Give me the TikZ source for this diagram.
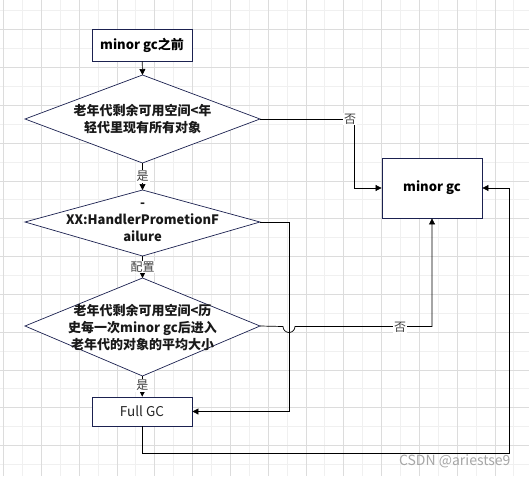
\documentclass[tikz,border=0pt]{standalone}
\usepackage{fontspec}
\setmainfont{Noto Sans CJK SC}
\usetikzlibrary{arrows.meta}
\definecolor{boxc}{HTML}{1B2150}
\definecolor{gridmin}{HTML}{F0F0F0}
\definecolor{gridmaj}{HTML}{DCDCDC}
\begin{document}
\begin{tikzpicture}[x=1pt,y=-1pt,
  box/.style={draw=boxc,line width=0.8pt,minimum width=100pt,inner sep=0pt,fill=white},
  diashape/.style={draw=boxc,line width=0.7pt,fill=white},
  diatext/.style={align=center,font=\fontsize{13}{17}\selectfont\bfseries,text=black!90},
  conn/.style={draw=black,line width=0.7pt},
  arr/.style={conn,-{Triangle[length=6pt,width=6pt]}},
  lab/.style={fill=white,inner sep=1pt,font=\fontsize{12}{14}\selectfont,text=black!75}]
\useasboundingbox (0,0) rectangle (529,476);
\fill[white] (0,0) rectangle (529,476);
% grid
\foreach \i in {0,...,28} {
  \pgfmathsetmacro\xx{3.4+18.9*\i}
  \draw[gridmin,line width=0.6pt] (\xx,0) -- (\xx,476);
}
\foreach \i in {0,...,25} {
  \pgfmathsetmacro\yy{10.7+18.9*\i}
  \draw[gridmin,line width=0.6pt] (0,\yy) -- (529,\yy);
}
\foreach \i in {0,...,14} {
  \pgfmathsetmacro\xx{3.4+37.8*\i}
  \draw[gridmaj,line width=0.6pt] (\xx,0) -- (\xx,476);
}
\foreach \i in {0,...,12} {
  \pgfmathsetmacro\yy{29.6+37.8*\i}
  \draw[gridmaj,line width=0.6pt] (0,\yy) -- (529,\yy);
}
% nodes
\node[box,minimum height=32pt,font=\fontsize{13}{15}\selectfont\bfseries] (start) at (142,45) {minor gc之前};
% diamonds
\draw[diashape] (25,119) -- (142.5,75) -- (260,119) -- (142.5,163) -- cycle;
\node[diatext] (d1) at (142.5,119) {老年代剩余可用空间<年\\轻代里现有所有对象};
\coordinate (d1t) at (142.5,75); \coordinate (d1b) at (142.5,163); \coordinate (d1r) at (260,119);
\draw[diashape] (25,222) -- (142.5,190) -- (260,222) -- (142.5,256) -- cycle;
\node[diatext] (d2) at (142.5,222) {-\\XX:HandlerPrometionF\\ailure};
\coordinate (d2t) at (142.5,190); \coordinate (d2b) at (142.5,256); \coordinate (d2r) at (260,222);
\draw[diashape] (25,326) -- (142.5,278) -- (260,326) -- (142.5,376) -- cycle;
\node[diatext] (d3) at (142.5,327) {老年代剩余可用空间<历\\史每一次minor gc后进入\\老年代的对象的平均大小};
\coordinate (d3t) at (142.5,278); \coordinate (d3b) at (142.5,376); \coordinate (d3r) at (260,326);
\node[box,minimum height=29pt,font=\fontsize{13.5}{15}\selectfont,text=black!85] (full) at (142,411.5) {Full GC};
\node[box,minimum height=60pt,font=\fontsize{13}{15}\selectfont\bfseries] (mgc) at (432,188) {minor gc};
% connectors
\draw[arr] (start) -- (d1t);
\draw[arr] (d1b) -- node[lab] {是} (d2t);
\draw[arr] (d2b) -- node[lab] {配置} (d3t);
\draw[arr] (d3b) -- node[lab,pos=0.45] {是} (full);
\coordinate (c1) at (354,119);
\draw[arr] (d1r) -- (c1) |- (mgc.west);
\node[lab] at (350,119) {否};
\coordinate (c2) at (289,222);
\draw[arr] (d2r) -- (c2) |- (full.east);
\coordinate (c3) at (432,326.5);
\draw[arr] (d3r) -- (283,326.5) arc[start angle=180,end angle=0,radius=6] -- (c3) -- (mgc.south);
\node[lab] at (400,327) {否};
\coordinate (c4) at (142,453); \coordinate (c5) at (509,453);
\draw[arr] (full.south) -- (c4) -- (c5) |- (mgc.east);
\node[font=\fontsize{14}{16}\selectfont,text=black!35,anchor=east] (wm) at (514,461) {CSDN @ariestse9};
\end{tikzpicture}
\end{document}
